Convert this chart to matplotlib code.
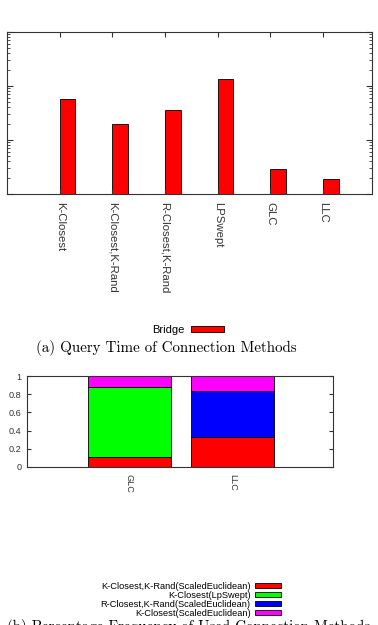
import matplotlib
matplotlib.use('Agg')
import matplotlib.pyplot as plt
from matplotlib.patches import Patch
import numpy as np

# Data for plot (a): query time (log scale, no labels shown)
methods = ['K-Closest', 'K-Closest,K-Rand', 'R-Closest,K-Rand', 'LPSwept', 'GLC', 'LLC']
bridge_time = [57, 20, 36, 134, 2.9, 1.9]

# Data for plot (b): percentage of used connection methods
planners = ['GLC', 'LLC']
series_names = ['K-Closest,K-Rand(ScaledEuclidean)', 'K-Closest(LpSwept)',
                'R-Closest,K-Rand(ScaledEuclidean)', 'K-Closest(ScaledEuclidean)']
series_vals = [[0.11, 0.33],
               [0.77, 0.00],
               [0.00, 0.50],
               [0.12, 0.17]]
series_colors = ['#ff0000', '#00ff00', '#0000ff', '#ff00ff']

plt.rcParams['font.family'] = ['Liberation Sans', 'DejaVu Sans']
W, H = 378, 625
fig = plt.figure(figsize=(W / 100, H / 100), dpi=100)

def px_axes(l, r, t, b):
    return fig.add_axes([l / W, 1 - b / H, (r - l) / W, (b - t) / H])

frame = '#333333'
txt = '#333333'

# ---- (a) ----
ax1 = px_axes(7, 372, 32, 194)
x = np.arange(1, len(methods) + 1)
ax1.bar(x, bridge_time, width=0.3, align='edge', color='#ff0000',
        edgecolor='black', linewidth=0.6)
ax1.set_yscale('log')
ax1.set_ylim(1, 1000)
ax1.set_xlim(0, 6.93)
ax1.set_xticks(x)
ax1.set_xticklabels(methods, rotation=270, fontsize=8.2, color=txt, va='top', ha='center')
ax1.tick_params(axis='x', direction='in', top=True, length=3.5, pad=6, color=frame)
ax1.tick_params(axis='y', which='both', direction='in', right=True, labelleft=False, color=frame)
ax1.tick_params(axis='y', which='major', length=4)
ax1.tick_params(axis='y', which='minor', length=2)
for s in ax1.spines.values():
    s.set_color(frame)
    s.set_linewidth(0.8)

fig.legend(handles=[Patch(facecolor='#ff0000', edgecolor='black', linewidth=0.6, label='Bridge')],
           loc='center', bbox_to_anchor=(188 / W, 1 - 330 / H), frameon=False,
           markerfirst=False, fontsize=8, handlelength=2.9, handleheight=0.5,
           handletextpad=0.6, borderpad=0)
fig.text(166.5 / W, 1 - 347.5 / H, '(a) Query Time of Connection Methods',
         family='cmr10', fontsize=10.8, ha='center', va='center')

# ---- (b) ----
ax2 = px_axes(27, 333, 376, 467)
xp = np.arange(len(planners))
bottom = np.zeros(len(planners))
for vals, col, name in zip(series_vals, series_colors, series_names):
    ax2.bar(xp, vals, width=0.8, bottom=bottom, color=col, edgecolor='black',
            linewidth=0.6, label=name)
    bottom += np.array(vals)
ax2.set_ylim(0, 1)
ax2.set_xlim(-0.99, 1.97)
ax2.set_yticks(np.arange(0, 1.01, 0.2))
ax2.set_yticklabels(['0', '0.2', '0.4', '0.6', '0.8', '1'])
ax2.set_xticks(xp)
ax2.set_xticklabels(planners, rotation=270, fontsize=6.6, color=txt, va='top', ha='center')
ax2.tick_params(axis='x', length=0, pad=5)
ax2.tick_params(axis='y', direction='in', right=True, length=3, labelsize=6.6,
                labelcolor=txt, color=frame, pad=4)
for s in ax2.spines.values():
    s.set_color(frame)
    s.set_linewidth(0.8)

h2 = [Patch(facecolor=c, edgecolor='black', linewidth=0.6, label=n)
      for c, n in zip(series_colors, series_names)]
fig.legend(handles=h2, loc='center', bbox_to_anchor=(191 / W, 1 - 600 / H), frameon=False,
           markerfirst=False, fontsize=6.7, handlelength=2.8, handleheight=0.5,
           handletextpad=0.5, labelspacing=0.0, borderpad=0)
for t in fig.legends[-1].get_texts():
    t.set_ha('right')
fig.text(189 / W, 1 - 619 / H, '(b) Percentage Frequency of Used Connection Methods',
         family='cmr10', fontsize=10.8, ha='center', va='top')

fig.savefig('out.png', dpi=100)
